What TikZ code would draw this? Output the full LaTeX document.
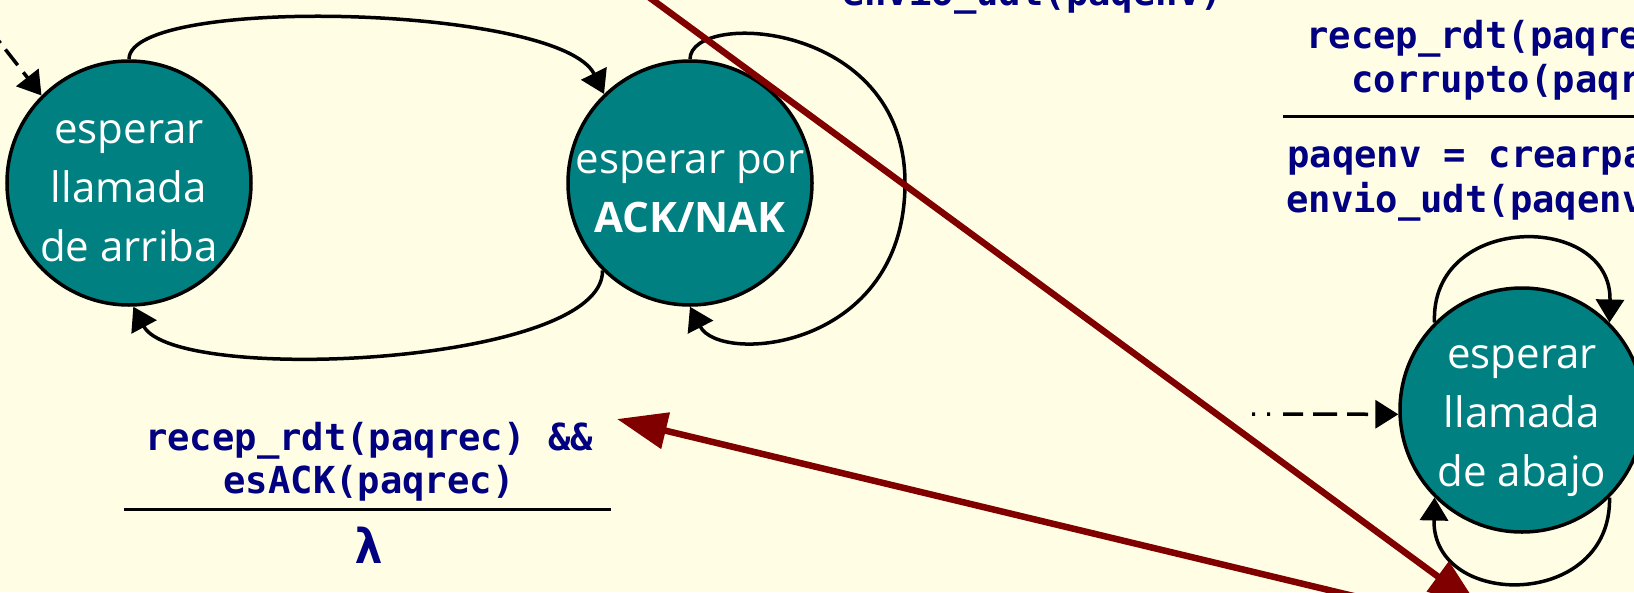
\documentclass[tikz,border=0pt]{standalone}
\usepackage{fontspec}
\usepackage{xcolor}
\usepackage{tikz}
\usetikzlibrary{arrows.meta}

\newfontfamily\statefont{Open Sans}
\newfontfamily\codefont{DejaVu Sans Mono}

\definecolor{fondo}{RGB}{255,254,229}
\definecolor{estado}{RGB}{0,128,128}
\definecolor{codigo}{RGB}{0,0,128}
\definecolor{flecha}{RGB}{128,0,0}

\begin{document}
\begin{tikzpicture}[x=1pt, y=-1pt,
    state/.style={circle, draw=black, line width=3.5pt, fill=estado, minimum size=244pt, inner sep=0pt},
    statetext/.style={text=white, align=center, inner sep=0pt, font=\fontsize{42}{59}\selectfont\statefont},
    trans/.style={draw=black, line width=3.5pt, -{Triangle[length=23pt,width=28pt]}},
    entry/.style={trans, line width=3.5pt},
    code/.style={text=codigo, inner sep=0pt, font=\fontsize{37.2}{44}\selectfont\codefont\bfseries},
    bar/.style={draw=black, line width=3pt},
    pointer/.style={draw=flecha, line width=6.5pt, -{Triangle[length=50pt,width=36pt]}}]
    % page
    \useasboundingbox (0,0) rectangle (1634,592);
    \fill[fondo] (0,0) rectangle (1634,592);
    \clip (0,0) rectangle (1634,592);

    % states
    \node[state] (arriba) at (129,183) {};
    \node[state] (acknak) at (690,183) {};
    \node[state] (abajo) at (1522,410) {};
    \node[statetext, yshift=-8pt] (arriba-txt) at (arriba) {esperar\\llamada\\de arriba};
    \node[statetext, yshift=-9pt] (acknak-txt) at (acknak) {esperar por\\\textbf{ACK/NAK}};
    \node[statetext, yshift=-11pt] (abajo-txt) at (abajo) {esperar\\llamada\\de abajo};

    % transitions
    \draw[trans] (arriba.north) .. controls (129,-5) and (560,5) .. (acknak.134);
    \draw[trans] (acknak.225) .. controls (604,365) and (175,385) .. (arriba.-88);
    \draw[trans] (acknak.north) .. controls (690,10) and (905,20) .. (905,183)
        .. controls (905,350) and (720,365) .. (acknak.south);
    \draw[trans] (abajo.135) .. controls (1430,212) and (1612,212) .. (abajo.45);
    \draw[trans] (abajo.-45) .. controls (1612,610) and (1432,610) .. (abajo.225);

    % initial arrows
    \coordinate (inicioArriba) at (-2,40);
    \coordinate (inicioAbajo) at (1252,414);
    \draw[entry, dash pattern=on 4pt off 8pt on 20pt off 9pt on 40pt off 20pt] (inicioArriba) -- (arriba.135);
    \draw[entry, dash pattern=on 3pt off 12pt on 3pt off 13pt on 20pt off 10pt on 24pt off 10pt on 21pt off 40pt] (inicioAbajo) -- (abajo.182);

    % events / actions
    \node[code, anchor=base west] (envioTop) at (842,5) {envio\_udt(paqenv)};

    \node[code, anchor=base] (guardAck1) at (369,450) {recep\_rdt(paqrec) \&\&};
    \node[code, anchor=base] (guardAck2) at (369,493) {esACK(paqrec)};
    \draw[bar] (124,509) -- (611,509);
    \node[code, anchor=base, font=\fontsize{48}{48}\selectfont\codefont\bfseries] (lambda) at (369,563) {λ};

    \node[code, anchor=base west] (guardNak1) at (1306,48) {recep\_rdt(paqre};
    \node[code, anchor=base west] (guardNak2) at (1351,92) {corrupto(paqr};
    \draw[bar] (1283,116) -- (1640,116);
    \node[code, anchor=base west] (accionNak1) at (1287,167) {paqenv = crearpa};
    \node[code, anchor=base west] (accionNak2) at (1286,212) {envio\_udt(paqenv};

    % pointers
    \coordinate (origenA) at (612,-30);
    \coordinate (destinoA) at (1478,606);
    \draw[pointer] (origenA) -- (destinoA);
    \coordinate (origenB) at (1420,612);
    \coordinate (destinoB) at (617,419);
    \draw[pointer] (origenB) -- (destinoB);
\end{tikzpicture}
\end{document}
